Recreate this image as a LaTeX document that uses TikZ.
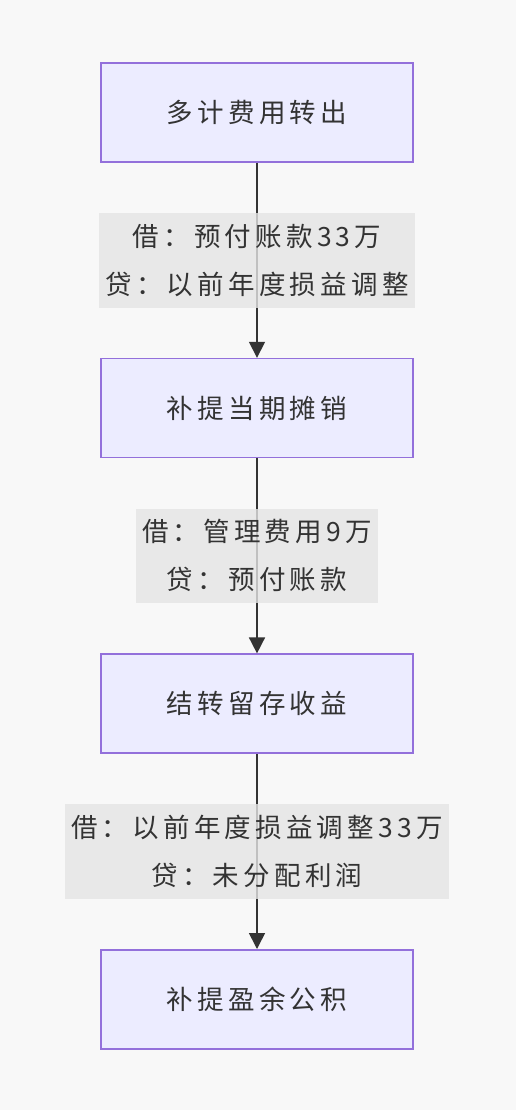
\documentclass[tikz,border=0pt]{standalone}
\usepackage{fontspec}
\usepackage{tikz}
\usetikzlibrary{positioning}
\usetikzlibrary{arrows.meta}
\newfontfamily\cjk[LetterSpace=16]{Noto Sans CJK SC}
\definecolor{bgcol}{HTML}{F8F8F8}
\definecolor{boxfill}{HTML}{ECECFF}
\definecolor{boxline}{HTML}{9370DB}
\definecolor{lblfill}{HTML}{E4E4E4}
\definecolor{linecol}{HTML}{333333}
\begin{document}
\begin{tikzpicture}[x=1pt,y=-1pt,
  step box/.style={rectangle, draw=boxline, fill=boxfill, line width=1.6pt,
    minimum width=312pt, minimum height=99pt, inner sep=0pt,
    font=\cjk\fontsize{26.5}{30}\selectfont, text=linecol},
  edge lbl/.style={rectangle, fill=lblfill, fill opacity=0.8, text opacity=1,
    inner xsep=6pt, inner ysep=11pt, align=center,
    font=\cjk\fontsize{26.5}{48}\selectfont, text=linecol},
  flow/.style={draw=linecol, line width=1.6pt, -{Triangle[length=16pt,width=16pt]}}]

  \fill[bgcol] (0,0) rectangle (516,1110);
  \useasboundingbox (0,0) rectangle (516,1110);

  \node[step box] at (257,112.5) (S1) {多计费用转出};
  \node[step box] (S2) [below=195pt of S1] {补提当期摊销};
  \node[step box] (S3) [below=195pt of S2] {结转留存收益};
  \node[step box] (S4) [below=195pt of S3] {补提盈余公积};

  \draw[flow] (S1) -- node[edge lbl] {借：预付账款33万\\贷：以前年度损益调整} (S2);
  \draw[flow] (S2) -- node[edge lbl] {借：管理费用9万\\贷：预付账款} (S3);
  \draw[flow] (S3) -- node[edge lbl] {借：以前年度损益调整33万\\贷：未分配利润} (S4);

\end{tikzpicture}
\end{document}
